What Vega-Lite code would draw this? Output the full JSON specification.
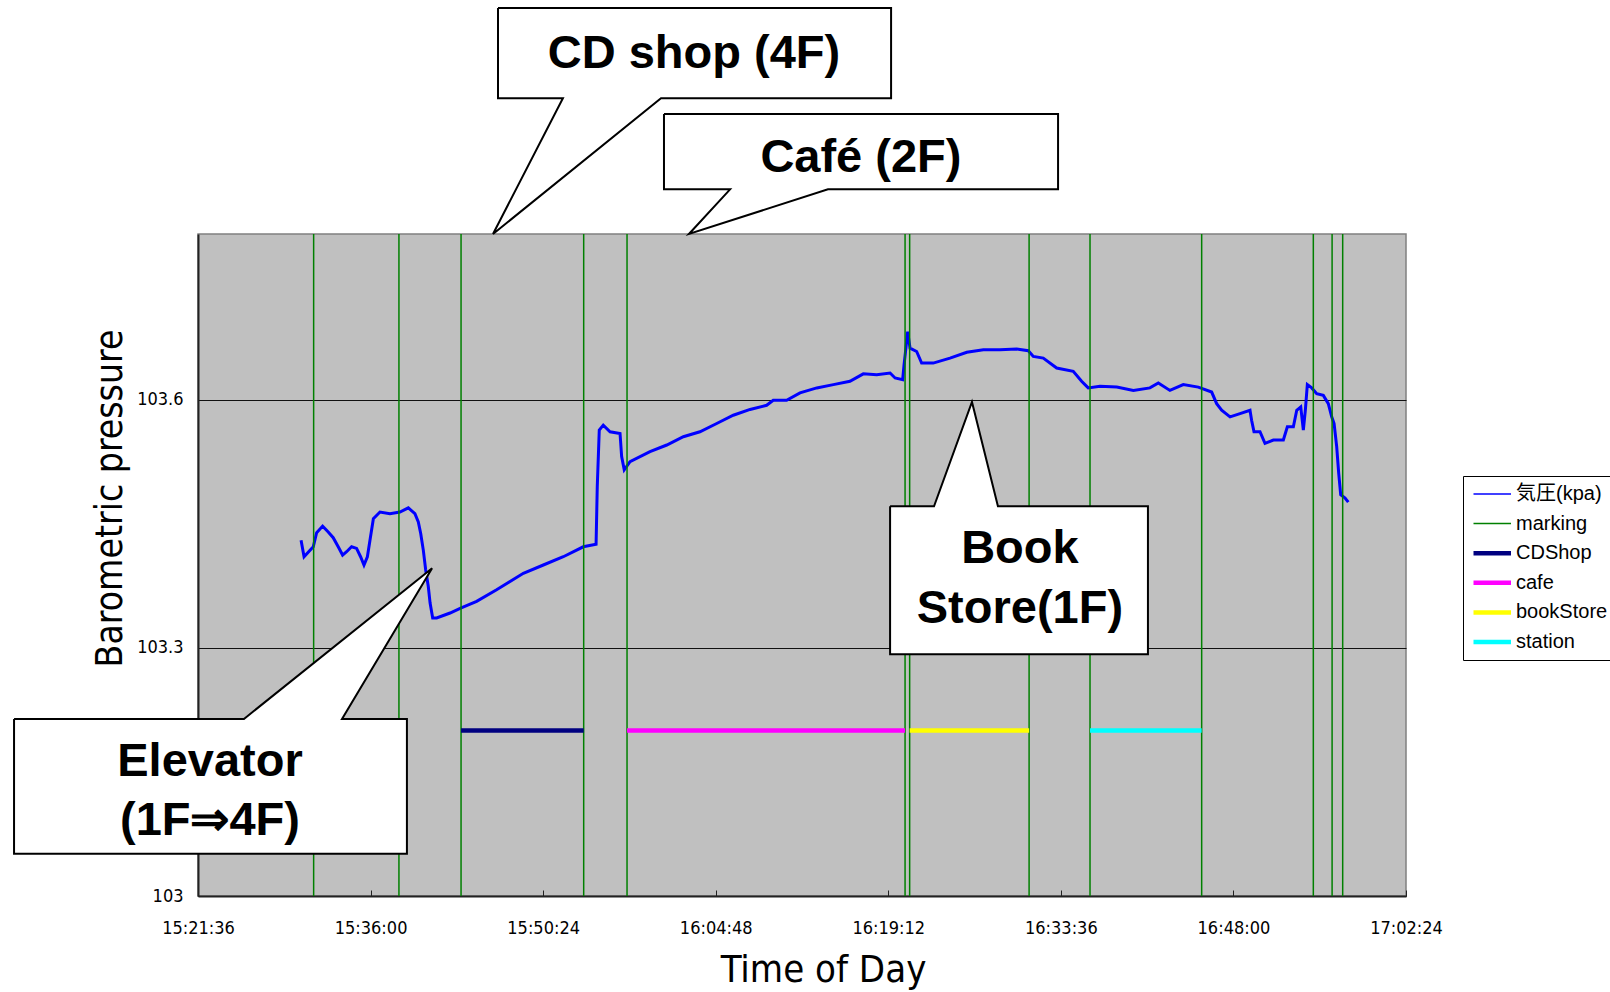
{
  "$schema": "https://vega.github.io/schema/vega-lite/v6.json",
  "width": 1208,
  "height": 662,
  "autosize": {"type": "none"},
  "padding": {"left": 198, "top": 234, "right": 204, "bottom": 96},
  "background": "white",
  "config": {
    "view": {"fill": "#C0C0C0", "stroke": "#808080", "strokeWidth": 1.5},
    "font": "Liberation Sans",
    "axis": {"domainColor": "#222222", "domainWidth": 2, "labelColor": "black", "titleColor": "black", "titleFontWeight": "normal"}
  },
  "datasets": {
    "pressure": [
      {"t": "2010-01-01T15:30:12", "p": 103.430},
      {"t": "2010-01-01T15:30:27", "p": 103.410},
      {"t": "2010-01-01T15:31:13", "p": 103.422},
      {"t": "2010-01-01T15:31:30", "p": 103.439},
      {"t": "2010-01-01T15:32:00", "p": 103.447},
      {"t": "2010-01-01T15:32:28", "p": 103.440},
      {"t": "2010-01-01T15:32:53", "p": 103.433},
      {"t": "2010-01-01T15:33:18", "p": 103.422},
      {"t": "2010-01-01T15:33:40", "p": 103.412},
      {"t": "2010-01-01T15:34:00", "p": 103.416},
      {"t": "2010-01-01T15:34:25", "p": 103.422},
      {"t": "2010-01-01T15:34:50", "p": 103.420},
      {"t": "2010-01-01T15:35:10", "p": 103.410},
      {"t": "2010-01-01T15:35:27", "p": 103.400},
      {"t": "2010-01-01T15:35:44", "p": 103.410},
      {"t": "2010-01-01T15:35:57", "p": 103.430},
      {"t": "2010-01-01T15:36:14", "p": 103.456},
      {"t": "2010-01-01T15:36:47", "p": 103.464},
      {"t": "2010-01-01T15:37:37", "p": 103.462},
      {"t": "2010-01-01T15:38:27", "p": 103.464},
      {"t": "2010-01-01T15:39:09", "p": 103.469},
      {"t": "2010-01-01T15:39:42", "p": 103.462},
      {"t": "2010-01-01T15:39:59", "p": 103.452},
      {"t": "2010-01-01T15:40:11", "p": 103.438},
      {"t": "2010-01-01T15:40:24", "p": 103.418},
      {"t": "2010-01-01T15:40:36", "p": 103.394},
      {"t": "2010-01-01T15:40:49", "p": 103.374},
      {"t": "2010-01-01T15:40:58", "p": 103.354},
      {"t": "2010-01-01T15:41:11", "p": 103.336},
      {"t": "2010-01-01T15:41:31", "p": 103.336},
      {"t": "2010-01-01T15:42:38", "p": 103.342},
      {"t": "2010-01-01T15:43:31", "p": 103.348},
      {"t": "2010-01-01T15:44:51", "p": 103.356},
      {"t": "2010-01-01T15:46:31", "p": 103.370},
      {"t": "2010-01-01T15:48:45", "p": 103.390},
      {"t": "2010-01-01T15:50:25", "p": 103.400},
      {"t": "2010-01-01T15:52:05", "p": 103.410},
      {"t": "2010-01-01T15:53:45", "p": 103.422},
      {"t": "2010-01-01T15:54:49", "p": 103.425},
      {"t": "2010-01-01T15:54:55", "p": 103.495},
      {"t": "2010-01-01T15:55:05", "p": 103.563},
      {"t": "2010-01-01T15:55:25", "p": 103.569},
      {"t": "2010-01-01T15:55:59", "p": 103.561},
      {"t": "2010-01-01T15:56:49", "p": 103.559},
      {"t": "2010-01-01T15:56:57", "p": 103.531},
      {"t": "2010-01-01T15:57:10", "p": 103.515},
      {"t": "2010-01-01T15:57:39", "p": 103.525},
      {"t": "2010-01-01T15:59:19", "p": 103.537},
      {"t": "2010-01-01T16:00:43", "p": 103.545},
      {"t": "2010-01-01T16:02:06", "p": 103.555},
      {"t": "2010-01-01T16:03:29", "p": 103.561},
      {"t": "2010-01-01T16:04:53", "p": 103.571},
      {"t": "2010-01-01T16:06:16", "p": 103.581},
      {"t": "2010-01-01T16:07:40", "p": 103.588},
      {"t": "2010-01-01T16:09:03", "p": 103.593},
      {"t": "2010-01-01T16:09:36", "p": 103.599},
      {"t": "2010-01-01T16:10:43", "p": 103.599},
      {"t": "2010-01-01T16:11:50", "p": 103.608},
      {"t": "2010-01-01T16:13:14", "p": 103.614},
      {"t": "2010-01-01T16:14:37", "p": 103.618},
      {"t": "2010-01-01T16:16:00", "p": 103.622},
      {"t": "2010-01-01T16:17:07", "p": 103.631},
      {"t": "2010-01-01T16:18:14", "p": 103.630},
      {"t": "2010-01-01T16:19:21", "p": 103.632},
      {"t": "2010-01-01T16:19:46", "p": 103.626},
      {"t": "2010-01-01T16:20:24", "p": 103.624},
      {"t": "2010-01-01T16:20:31", "p": 103.642},
      {"t": "2010-01-01T16:20:41", "p": 103.664},
      {"t": "2010-01-01T16:20:49", "p": 103.682},
      {"t": "2010-01-01T16:21:01", "p": 103.662},
      {"t": "2010-01-01T16:21:34", "p": 103.658},
      {"t": "2010-01-01T16:21:59", "p": 103.644},
      {"t": "2010-01-01T16:22:57", "p": 103.644},
      {"t": "2010-01-01T16:24:21", "p": 103.650},
      {"t": "2010-01-01T16:25:45", "p": 103.657},
      {"t": "2010-01-01T16:27:08", "p": 103.660},
      {"t": "2010-01-01T16:28:31", "p": 103.660},
      {"t": "2010-01-01T16:29:55", "p": 103.661},
      {"t": "2010-01-01T16:30:53", "p": 103.659},
      {"t": "2010-01-01T16:31:18", "p": 103.652},
      {"t": "2010-01-01T16:32:08", "p": 103.650},
      {"t": "2010-01-01T16:33:15", "p": 103.638},
      {"t": "2010-01-01T16:34:38", "p": 103.634},
      {"t": "2010-01-01T16:35:20", "p": 103.622},
      {"t": "2010-01-01T16:35:53", "p": 103.614},
      {"t": "2010-01-01T16:36:52", "p": 103.616},
      {"t": "2010-01-01T16:38:16", "p": 103.615},
      {"t": "2010-01-01T16:39:39", "p": 103.611},
      {"t": "2010-01-01T16:41:02", "p": 103.614},
      {"t": "2010-01-01T16:41:44", "p": 103.620},
      {"t": "2010-01-01T16:42:42", "p": 103.611},
      {"t": "2010-01-01T16:43:49", "p": 103.618},
      {"t": "2010-01-01T16:45:04", "p": 103.615},
      {"t": "2010-01-01T16:46:11", "p": 103.609},
      {"t": "2010-01-01T16:46:36", "p": 103.595},
      {"t": "2010-01-01T16:47:01", "p": 103.587},
      {"t": "2010-01-01T16:47:43", "p": 103.579},
      {"t": "2010-01-01T16:48:33", "p": 103.583},
      {"t": "2010-01-01T16:49:23", "p": 103.587},
      {"t": "2010-01-01T16:49:31", "p": 103.575},
      {"t": "2010-01-01T16:49:43", "p": 103.561},
      {"t": "2010-01-01T16:50:13", "p": 103.561},
      {"t": "2010-01-01T16:50:38", "p": 103.547},
      {"t": "2010-01-01T16:51:20", "p": 103.551},
      {"t": "2010-01-01T16:52:10", "p": 103.551},
      {"t": "2010-01-01T16:52:30", "p": 103.567},
      {"t": "2010-01-01T16:53:00", "p": 103.567},
      {"t": "2010-01-01T16:53:17", "p": 103.587},
      {"t": "2010-01-01T16:53:37", "p": 103.591},
      {"t": "2010-01-01T16:53:50", "p": 103.563},
      {"t": "2010-01-01T16:54:00", "p": 103.587},
      {"t": "2010-01-01T16:54:10", "p": 103.618},
      {"t": "2010-01-01T16:54:32", "p": 103.614},
      {"t": "2010-01-01T16:54:57", "p": 103.607},
      {"t": "2010-01-01T16:55:30", "p": 103.605},
      {"t": "2010-01-01T16:55:55", "p": 103.595},
      {"t": "2010-01-01T16:56:12", "p": 103.579},
      {"t": "2010-01-01T16:56:24", "p": 103.571},
      {"t": "2010-01-01T16:56:37", "p": 103.543},
      {"t": "2010-01-01T16:56:47", "p": 103.511},
      {"t": "2010-01-01T16:56:57", "p": 103.485},
      {"t": "2010-01-01T16:57:19", "p": 103.481},
      {"t": "2010-01-01T16:57:35", "p": 103.476}
    ],
    "marks": [
      {"t": "2010-01-01T15:31:15"},
      {"t": "2010-01-01T15:38:22"},
      {"t": "2010-01-01T15:43:33"},
      {"t": "2010-01-01T15:53:47"},
      {"t": "2010-01-01T15:57:24"},
      {"t": "2010-01-01T16:20:36"},
      {"t": "2010-01-01T16:20:59"},
      {"t": "2010-01-01T16:30:57"},
      {"t": "2010-01-01T16:36:02"},
      {"t": "2010-01-01T16:45:21"},
      {"t": "2010-01-01T16:54:40"},
      {"t": "2010-01-01T16:56:14"},
      {"t": "2010-01-01T16:57:07"}
    ],
    "segments": [
      {"series": "CDShop", "start": "2010-01-01T15:43:33", "end": "2010-01-01T15:53:47", "level": 103.2},
      {"series": "cafe", "start": "2010-01-01T15:57:24", "end": "2010-01-01T16:20:36", "level": 103.2},
      {"series": "bookStore", "start": "2010-01-01T16:20:59", "end": "2010-01-01T16:30:57", "level": 103.2},
      {"series": "station", "start": "2010-01-01T16:36:02", "end": "2010-01-01T16:45:21", "level": 103.2}
    ],
    "callouts": [
      {"c": "cd", "o": 1, "t": "2010-01-01T15:46:38", "v": 104.073},
      {"c": "cd", "o": 2, "t": "2010-01-01T16:19:26", "v": 104.073},
      {"c": "cd", "o": 3, "t": "2010-01-01T16:19:26", "v": 103.964},
      {"c": "cd", "o": 4, "t": "2010-01-01T16:00:14", "v": 103.964},
      {"c": "cd", "o": 5, "t": "2010-01-01T15:46:13", "v": 103.8},
      {"c": "cd", "o": 6, "t": "2010-01-01T15:52:03", "v": 103.964},
      {"c": "cd", "o": 7, "t": "2010-01-01T15:46:38", "v": 103.964},
      {"c": "cd", "o": 8, "t": "2010-01-01T15:46:38", "v": 104.073},
      {"c": "cafe", "o": 1, "t": "2010-01-01T16:00:29", "v": 103.945},
      {"c": "cafe", "o": 2, "t": "2010-01-01T16:33:22", "v": 103.945},
      {"c": "cafe", "o": 3, "t": "2010-01-01T16:33:22", "v": 103.854},
      {"c": "cafe", "o": 4, "t": "2010-01-01T16:14:10", "v": 103.854},
      {"c": "cafe", "o": 5, "t": "2010-01-01T16:02:34", "v": 103.8},
      {"c": "cafe", "o": 6, "t": "2010-01-01T16:06:00", "v": 103.854},
      {"c": "cafe", "o": 7, "t": "2010-01-01T16:00:29", "v": 103.854},
      {"c": "cafe", "o": 8, "t": "2010-01-01T16:00:29", "v": 103.945},
      {"c": "book", "o": 1, "t": "2010-01-01T16:19:21", "v": 103.471},
      {"c": "book", "o": 2, "t": "2010-01-01T16:23:01", "v": 103.471},
      {"c": "book", "o": 3, "t": "2010-01-01T16:26:11", "v": 103.597},
      {"c": "book", "o": 4, "t": "2010-01-01T16:28:21", "v": 103.471},
      {"c": "book", "o": 5, "t": "2010-01-01T16:40:52", "v": 103.471},
      {"c": "book", "o": 6, "t": "2010-01-01T16:40:52", "v": 103.292},
      {"c": "book", "o": 7, "t": "2010-01-01T16:19:21", "v": 103.292},
      {"c": "book", "o": 8, "t": "2010-01-01T16:19:21", "v": 103.471},
      {"c": "elev", "o": 1, "t": "2010-01-01T15:06:15", "v": 103.214},
      {"c": "elev", "o": 2, "t": "2010-01-01T15:25:26", "v": 103.214},
      {"c": "elev", "o": 3, "t": "2010-01-01T15:41:08", "v": 103.396},
      {"c": "elev", "o": 4, "t": "2010-01-01T15:33:37", "v": 103.214},
      {"c": "elev", "o": 5, "t": "2010-01-01T15:39:02", "v": 103.214},
      {"c": "elev", "o": 6, "t": "2010-01-01T15:39:02", "v": 103.051},
      {"c": "elev", "o": 7, "t": "2010-01-01T15:06:15", "v": 103.051},
      {"c": "elev", "o": 8, "t": "2010-01-01T15:06:15", "v": 103.214}
    ],
    "labels": [
      {"t": "2010-01-01T16:02:59", "v": 104.018, "label": "CD shop (4F)"},
      {"t": "2010-01-01T16:16:55", "v": 103.892, "label": "Café (2F)"},
      {"t": "2010-01-01T16:30:11", "v": 103.419, "label": "Book"},
      {"t": "2010-01-01T16:30:11", "v": 103.347, "label": "Store(1F)"},
      {"t": "2010-01-01T15:22:36", "v": 103.162, "label": "Elevator"},
      {"t": "2010-01-01T15:22:36", "v": 103.091, "label": "(1F⇒4F)"}
    ]
  },
  "layer": [
    {
      "data": {"name": "pressure"},
      "mark": {"type": "line", "strokeWidth": 3, "interpolate": "linear"},
      "encoding": {
        "x": {
          "field": "t", "type": "temporal",
          "scale": {"domain": [
            {"year": 2010, "month": 1, "date": 1, "hours": 15, "minutes": 21, "seconds": 36},
            {"year": 2010, "month": 1, "date": 1, "hours": 17, "minutes": 2, "seconds": 24}
          ]},
          "axis": {
            "title": "Time of Day",
            "titleFont": "DejaVu Sans Condensed, Liberation Sans",
            "titleFontSize": 38,
            "titleX": 625,
            "titleY": 74,
            "titleBaseline": "middle",
            "titleAnchor": "middle",
            "format": "%H:%M:%S",
            "values": [
              {"year": 2010, "month": 1, "date": 1, "hours": 15, "minutes": 21, "seconds": 36},
              {"year": 2010, "month": 1, "date": 1, "hours": 15, "minutes": 36, "seconds": 0},
              {"year": 2010, "month": 1, "date": 1, "hours": 15, "minutes": 50, "seconds": 24},
              {"year": 2010, "month": 1, "date": 1, "hours": 16, "minutes": 4, "seconds": 48},
              {"year": 2010, "month": 1, "date": 1, "hours": 16, "minutes": 19, "seconds": 12},
              {"year": 2010, "month": 1, "date": 1, "hours": 16, "minutes": 33, "seconds": 36},
              {"year": 2010, "month": 1, "date": 1, "hours": 16, "minutes": 48, "seconds": 0},
              {"year": 2010, "month": 1, "date": 1, "hours": 17, "minutes": 2, "seconds": 24}
            ],
            "labelFont": "DejaVu Sans Condensed, Liberation Sans",
            "labelFontSize": 18,
            "labelFlush": false,
            "labelOverlap": false,
            "ticks": true,
            "tickSize": -6,
            "tickColor": "#222222",
            "labelPadding": 29,
            "grid": false
          }
        },
        "y": {
          "field": "p", "type": "quantitative",
          "scale": {"domain": [103, 103.8], "zero": false, "nice": false},
          "axis": {
            "title": "Barometric pressure",
            "titleFont": "DejaVu Sans Condensed, Liberation Sans",
            "titleFontSize": 37,
            "titleX": -88,
            "titleY": 264,
            "titleBaseline": "middle",
            "titleAngle": -90,
            "values": [103, 103.3, 103.6],
            "format": ".1~f",
            "labelFont": "DejaVu Sans Condensed, Liberation Sans",
            "labelFontSize": 18,
            "labelPadding": 15,
            "tickSize": 0,
            "grid": true,
            "gridColor": "#111111",
            "gridWidth": 1.2,
            "gridOpacity": 1
          }
        },
        "color": {
          "datum": "気圧(kpa)", "type": "nominal",
          "scale": {
            "domain": ["気圧(kpa)", "marking", "CDShop", "cafe", "bookStore", "station"],
            "range": ["#0000FF", "#008000", "#000080", "#FF00FF", "#FFFF00", "#00FFFF"]
          },
          "legend": {
            "title": null,
            "orient": "none",
            "legendX": 1265,
            "legendY": 242,
            "symbolType": "M-1,0H4.0",
            "symbolSize": 225,
            "symbolStrokeWidth": 1.5,
            "symbolFillColor": "transparent",
            "labelFont": "Liberation Sans, Noto Sans CJK JP",
            "labelFontSize": 20,
            "labelColor": "black",
            "labelOffset": 25,
            "rowPadding": 9.6,
            "padding": 8,
            "strokeColor": "black",
            "fillColor": "white",
            "encode": {
              "symbols": {"update": {"strokeWidth": {"signal": "indexof(['CDShop','cafe','bookStore','station'], datum.value) >= 0 ? 4.5 : 1.5"}}}
            }
          }
        }
      }
    },
    {
      "data": {"name": "marks"},
      "mark": {"type": "rule", "strokeWidth": 1.5},
      "encoding": {
        "x": {"field": "t", "type": "temporal"},
        "color": {"datum": "marking", "type": "nominal", "legend": {"title": null}}
      }
    },
    {
      "data": {"name": "segments"},
      "mark": {"type": "rule", "strokeWidth": 4.5},
      "encoding": {
        "x": {"field": "start", "type": "temporal"},
        "x2": {"field": "end"},
        "y": {"field": "level", "type": "quantitative"},
        "color": {"field": "series", "type": "nominal", "title": null, "legend": {"title": null}}
      }
    },
    {
      "data": {"name": "callouts"},
      "mark": {"type": "line", "fill": "white", "stroke": "black", "strokeWidth": 2, "strokeJoin": "miter"},
      "encoding": {
        "x": {"field": "t", "type": "temporal"},
        "y": {"field": "v", "type": "quantitative"},
        "detail": {"field": "c", "type": "nominal"},
        "order": {"field": "o", "type": "quantitative"}
      }
    },
    {
      "data": {"name": "labels"},
      "mark": {"type": "text", "font": "Liberation Sans", "fontWeight": "bold", "fontSize": 47, "align": "center", "baseline": "middle", "color": "black"},
      "encoding": {
        "x": {"field": "t", "type": "temporal"},
        "y": {"field": "v", "type": "quantitative"},
        "text": {"field": "label", "type": "nominal"}
      }
    }
  ]
}
